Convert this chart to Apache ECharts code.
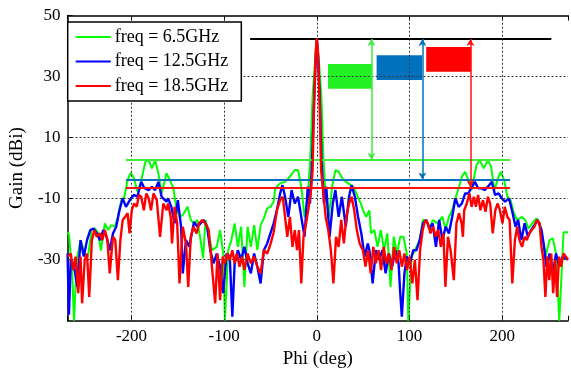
<!DOCTYPE html>
<html><head><meta charset="utf-8">
<script src="https://cdn.jsdelivr.net/npm/echarts@6/dist/echarts.min.js"></script>
<style>html,body{margin:0;padding:0;background:#fff}#c{width:571px;height:376px}</style>
</head><body><div id="c"></div>
<script>
const seriesNames = ['freq = 6.5GHz', 'freq = 12.5GHz', 'freq = 18.5GHz'];
const xTicks = [-200, -100, 0, 100, 200];
const yTicks = [-50, -30, -10, 10, 30, 50];

const gain65 = [[-269,-21],[-267.3,-22],[-264,-35],[-262,-50],[-259,-30],[-255,-23.6],[-253,-23.6],[-250,-28],[-247,-29],[-243,-20.3],[-239.3,-19.8],[-235.8,-21.4],[-233,-27],[-228.8,-18.1],[-225.3,-20.3],[-221.7,-18.7],[-218,-19.2],[-214.7,-16],[-211,-10.5],[-207.7,-9.4],[-204.2,-3.9],[-200.7,-1.5],[-197.2,-3.4],[-193.7,-7.7],[-190.2,-5],[-185,2.1],[-181.5,2.6],[-178,-0.1],[-174.5,2.6],[-171,-1.7],[-167.5,-8.3],[-162.2,-1.7],[-160.5,-1.2],[-157,-5],[-155.2,-6.1],[-151.7,-12.7],[-148.2,-16],[-144.7,-15.4],[-139.5,-12.7],[-136,-17],[-132.5,-18.1],[-129,-17],[-125.5,-23.6],[-122.7,-29.6],[-120.2,-17],[-116.7,-21.4],[-113.2,-26.9],[-108,-25.8],[-104.4,-20.3],[-101,-28],[-99.2,-50],[-95.7,-26.9],[-92.2,-23.6],[-88.7,-18.1],[-85.2,-25.8],[-81.7,-19.2],[-78.2,-38.9],[-74.7,-19.2],[-71.2,-25.8],[-67.7,-18.7],[-64.2,-26.9],[-60.7,-18.7],[-57.2,-16.5],[-53.6,-13.2],[-50.1,-12.7],[-46.6,-11],[-44.8,-6.5],[-39.6,-5],[-34.3,-4.5],[-29.1,-2.8],[-23.8,-0.65],[-20.3,-0.65],[-16.8,-6.1],[-13.3,-16],[-9.8,-9.4],[-7.4,1.5],[-4.6,23.4],[-2.1,34.3],[0,42.3],[2.4,34.3],[4.9,23.4],[7,3.7],[9.5,-9.4],[13,-16],[16.5,-6.1],[20,-0.65],[23.5,-1.2],[28.7,-3.9],[34,-5],[39.2,-6.1],[42.7,-8.3],[47.9,-12],[50,-14],[53.2,-16],[56.7,-13.8],[58.5,-21.4],[62,-20.3],[65.5,-25.8],[69,-20.3],[72.5,-26.9],[76,-21.4],[79.5,-38.9],[83,-22.5],[86.5,-28],[90,-22.5],[93.5,-22.5],[97,-28],[98.7,-50],[102.2,-29],[105.8,-26.9],[111,-23.6],[114.5,-17],[118,-17],[121.5,-19.8],[125,-17],[130.3,-18.1],[135.5,-15.9],[139,-20.3],[142.5,-16],[146,-13.8],[149.5,-9.9],[153,-6.6],[156.5,-2.8],[160,-1.2],[163.6,-3.9],[167,-7.2],[172.3,1],[175.8,2.6],[180,-0.1],[184.6,2.6],[188,0.5],[191.6,-7.2],[196.1,-2.8],[198.6,-1.2],[202.1,-3.9],[205.6,-9.4],[209.1,-10.5],[212.6,-14.8],[216.1,-17],[221.4,-16],[224.9,-17],[228.4,-19.8],[233.6,-17.6],[237.1,-16.5],[240.6,-18.1],[244.1,-23.6],[246.6,-29],[251.1,-23.6],[254.6,-23],[258.1,-28],[261.6,-50],[264.1,-34.5],[266.2,-21],[271,-21]];

const gain125 = [[-269,-28],[-267.5,-48],[-265.5,-30],[-262,-32.3],[-258.5,-38.9],[-255,-23.6],[-251.5,-29],[-248,-23.6],[-244.5,-20.3],[-241,-19.8],[-237.5,-21.4],[-234,-23.6],[-230.5,-20.3],[-227,-22.5],[-223.5,-26.9],[-220,-21.4],[-216.5,-19.2],[-213,-13.8],[-209.5,-9.9],[-206,-12.7],[-200.7,-9.9],[-197.2,-8.8],[-193.7,-9.4],[-189.5,-4.5],[-186,-6.6],[-181.5,-7.2],[-178,-6.1],[-174.5,-7.2],[-171,-4.5],[-167.5,-9.4],[-162.2,-11],[-160.5,-9.9],[-157,-12.7],[-153.5,-18.1],[-150,-10.5],[-146.5,-19.2],[-144.7,-34.5],[-141.2,-23.6],[-137.7,-25.8],[-132.5,-17.6],[-129,-19.2],[-125.5,-18.1],[-122,-17],[-118.5,-19.2],[-115,-26.9],[-111.5,-31.2],[-108,-28],[-104.4,-32.3],[-101,-41],[-97.4,-28],[-94,-29],[-91.2,-48.7],[-88.7,-31.2],[-85.2,-26.9],[-81.7,-30.1],[-78.2,-25.8],[-74.7,-31.2],[-71.2,-34.5],[-67.7,-28],[-64.2,-32.3],[-60.7,-37.8],[-57.2,-26.9],[-53.6,-24.7],[-50.1,-21.4],[-46.6,-18.1],[-43.1,-13.8],[-39.6,-8.3],[-37.1,-5.6],[-34.3,-9.4],[-30.8,-16],[-27.3,-7.2],[-23.8,-11.6],[-20.3,-9.4],[-16.8,-16],[-13.3,-22.5],[-9.8,-6.1],[-7.4,-11.6],[-5.3,1.5],[-2.8,23.4],[-1.1,36.5],[0,42.3],[1.4,36.5],[3.1,23.4],[5.2,1.5],[7.7,-11.6],[10.2,-6.1],[13.7,-22.5],[17.2,-11.6],[20,-7.2],[23.5,-16],[27,-9.4],[31.2,-19.2],[34.7,-9.4],[37.5,-5.6],[41,-9.4],[44.5,-16],[48,-21.4],[51.5,-29],[55,-24.7],[56.7,-26.9],[60.2,-37.8],[63.7,-26.9],[67.2,-30.1],[70.7,-26.9],[74.2,-34.5],[77.7,-28],[81.2,-32.3],[84.7,-26.9],[88.2,-31.2],[90,-41],[91.7,-48.7],[94.5,-34.5],[97,-29],[100.5,-31.2],[104,-26.9],[107.5,-26.9],[111,-23.6],[114.5,-18.1],[118,-17],[121.5,-19.8],[125,-18.1],[128.5,-25.8],[132,-17],[135.5,-23.6],[139,-19.2],[142.5,-21.4],[146,-16],[149.5,-9.9],[153,-12.7],[156.5,-11.6],[160,-8.3],[163.6,-8.3],[165.3,-7.2],[170.6,-4.5],[174,-6.6],[177.6,-6.6],[181,-7.2],[184.6,-6.1],[188.8,-4.5],[192.3,-8.8],[196.1,-8.3],[199.6,-9.9],[203.1,-11],[207.3,-9.9],[210.9,-14.3],[214.4,-19.2],[217.2,-17],[220.7,-23.6],[224.2,-18.1],[227.7,-22.5],[231.2,-20.3],[234.7,-18.7],[238.2,-17],[242.4,-20.3],[245.2,-25.8],[247.6,-32.3],[251.1,-28],[254.6,-34.5],[258.1,-28],[261.6,-32.3],[265.2,-29],[271,-30]];

const gain185 = [[-269,-29],[-265.5,-28],[-263,-33.4],[-260.3,-29],[-257.5,-41],[-255,-29],[-253.3,-44.3],[-250.5,-30.1],[-248,-28],[-245.6,-42.2],[-242.8,-23.6],[-240,-20.3],[-237.5,-22.5],[-234,-21.4],[-231.6,-23.6],[-228.8,-20.3],[-226,-23.6],[-223.5,-34.5],[-220,-22.5],[-217.5,-23.6],[-214.7,-36.7],[-212,-23.6],[-209.5,-17],[-207,-16],[-204.2,-14.8],[-202.1,-21.4],[-199.7,-13.8],[-197.2,-11.6],[-194.4,-12.7],[-192,-8.8],[-189.5,-9.4],[-186.7,-13.8],[-184,-8.3],[-181.5,-9.9],[-179,-13.8],[-176.2,-8.3],[-172.7,-10.5],[-169.2,-22.5],[-165.7,-11.6],[-162.2,-13.8],[-160.5,-11.6],[-157.7,-16],[-156.3,-24.7],[-153.5,-12.7],[-150.7,-18.1],[-148.2,-37.8],[-144.7,-19.2],[-141.2,-24.7],[-138.8,-38.9],[-136,-22.5],[-133.2,-19.2],[-129.7,-21.4],[-127.2,-18.1],[-123.7,-17],[-120.2,-18.1],[-116.7,-20.3],[-113.2,-32.3],[-109.7,-44.3],[-107.2,-28],[-104.4,-43.3],[-101.6,-29],[-99.2,-31.2],[-96.7,-28],[-94,-30.1],[-91.2,-26.9],[-88.7,-31.2],[-86.2,-28],[-83.4,-32.3],[-80.6,-29],[-78.2,-33.4],[-74.7,-28],[-71.2,-31.2],[-67.7,-29],[-64.2,-32.3],[-60.7,-34.5],[-57.2,-26.9],[-53.6,-28],[-50.1,-25],[-46.6,-21],[-43.1,-13.8],[-39.6,-10.5],[-36.8,-9.4],[-34.3,-16],[-31.9,-22.5],[-29.1,-16],[-26.3,-25.8],[-23.8,-20.3],[-21.4,-26.9],[-19.3,-20.3],[-16.8,-37.8],[-14.4,-22.5],[-11.6,-18.1],[-8.8,-12.7],[-6.3,-7.2],[-4.6,-0.65],[-2.8,23.4],[-1.1,38.7],[0,42.5],[1.1,38.7],[2.8,23.4],[4.6,-0.65],[6.7,-7.2],[9.5,-16],[12.3,-20.3],[15.1,-26.9],[17.9,-37.8],[20.7,-22.5],[23.5,-25.8],[26.3,-17],[29.1,-24.7],[31.9,-16],[34.7,-11.6],[37.5,-9.4],[40.3,-13.8],[43.1,-20.3],[46.2,-24.7],[49.7,-26.9],[52.5,-32.3],[55.3,-26.9],[58.1,-34.5],[60.9,-25.8],[63.7,-31.2],[66.5,-26.9],[69.3,-33.4],[72.1,-25.8],[74.9,-31.2],[77.7,-28],[80.5,-33.4],[83.3,-25.8],[86.1,-31.2],[88.9,-26.9],[91.7,-32.3],[94.5,-28],[97.3,-33.4],[100.1,-29],[103,-37.8],[105.8,-30.1],[108.6,-43.3],[111.4,-26.9],[114.2,-20.3],[117,-17],[119.8,-18.1],[122.6,-21.4],[125.4,-19.2],[128.2,-22.5],[131,-20.3],[133.8,-25.8],[136.6,-21.4],[138.7,-38.9],[141.5,-22.5],[144.3,-26.9],[147.8,-36.7],[150.6,-18.1],[153.4,-14.8],[156.2,-18.1],[157.6,-22.5],[159,-13.8],[161.8,-11.6],[164.6,-8.3],[167,-12.7],[169.5,-9.4],[171.6,-12.7],[174,-8.8],[176.5,-13.8],[179.3,-10.5],[182,-14.3],[184.6,-9.4],[187,-11.6],[189.8,-21.4],[192.6,-13.8],[195.1,-11.6],[197.5,-13.8],[200.3,-18.1],[202.8,-12.7],[205.6,-16],[208,-17],[210.9,-37.8],[213.7,-23.6],[216.1,-19.2],[218.6,-23.6],[221.4,-25.8],[224.2,-22.5],[226.6,-23.6],[229.1,-21.4],[231.9,-20.3],[234.7,-19.2],[237.5,-17],[240.3,-18.1],[242.4,-25.8],[244.5,-30.1],[246.6,-42.2],[248.7,-29],[250.8,-36.7],[252.9,-28],[255,-41],[257.1,-30.1],[259.2,-42.2],[261.3,-29],[263.4,-32.3],[266.2,-28],[271,-30]];

// annotations
const peakLevel = 42.3;
const peakLineRange = [-72, 253];
const sideLevels = [2.7, -3.7, -6.3];          // green, blue, red
const sideLineRange = [-206, 208.5];
const arrowX = [58.9, 113.9, 165.7];
const boxX = [[12, 59.5], [64.5, 113.5], [118, 166.5]];
const boxY = [[26, 34.1], [28.85, 36.95], [31.6, 39.7]];

const curveColors = ['#00ff00', '#0000ff', '#ff0000'];
const annotColors = ['#3dee3d', '#0072bd', '#ff1010'];
const boxColors = ['#22f022', '#0072bd', '#ff0000'];

const FONT = 'Liberation Serif';
const chart = echarts.init(document.getElementById('c'), null, {renderer: 'canvas'});

const markLineData = [];
markLineData.push([{coord: [peakLineRange[0], peakLevel], lineStyle: {color: '#000', width: 2, type: 'solid'}},
                   {coord: [peakLineRange[1], peakLevel]}]);
sideLevels.forEach((lv, i) => {
  markLineData.push([{coord: [sideLineRange[0], lv], lineStyle: {color: annotColors[i], width: 2, type: 'solid'}},
                     {coord: [sideLineRange[1], lv]}]);
});
const arrowData = arrowX.map((x, i) => [
  {coord: [x, peakLevel], lineStyle: {color: annotColors[i], width: 1.5, type: 'solid'}, itemStyle: {color: annotColors[i]}},
  {coord: [x, sideLevels[i]]}
]);
const areaData = boxX.map((bx, i) => [
  {coord: [bx[0], boxY[i][1]], itemStyle: {color: boxColors[i], opacity: 1}},
  {coord: [bx[1], boxY[i][0]]}
]);
const gridLineData = xTicks.map(v => ({xAxis: v})).concat(yTicks.filter(v => v > -50 && v < 50).map(v => ({yAxis: v})));

const gains = [gain65, gain125, gain185];
const widths = [2, 2.4, 2.4];
const series = gains.map((g, i) => ({
  name: seriesNames[i], type: 'line', data: g, symbol: 'none', showSymbol: false,
  lineStyle: {color: curveColors[i], width: widths[i]}, itemStyle: {color: curveColors[i]},
  z: 3 + i, animation: false, silent: true, clip: true
}));
series.unshift({
  name: 'grid', type: 'line', data: [], z: 1, silent: true, animation: false,
  markLine: {silent: true, symbol: ['none', 'none'], label: {show: false},
    lineStyle: {color: '#333', width: 1, type: [2, 2]}, data: gridLineData, animation: false}
});
series.push({
  name: 'annot', type: 'line', data: [], z: 10, silent: true, animation: false,
  markLine: {silent: true, symbol: ['none', 'none'], label: {show: false},
    lineStyle: {type: 'solid'}, data: markLineData, animation: false},
  markArea: {silent: true, data: areaData, animation: false}
});
series.push({
  name: 'arrows', type: 'line', data: [], z: 11, silent: true, animation: false,
  markLine: {silent: true, symbol: ['arrow', 'arrow'], symbolSize: [6, 7], label: {show: false},
    lineStyle: {type: 'solid'}, data: arrowData, animation: false}
});

const option = {
  animation: false,
  backgroundColor: '#fff',
  textStyle: {fontFamily: FONT, color: '#000'},
  grid: {left: 61.7, top: 15.5, width: 513.8, height: 305.2, containLabel: false},
  legend: {
    data: seriesNames, orient: 'vertical', left: 67.7, top: 22,
    backgroundColor: '#fff', borderColor: '#000', borderWidth: 1.5,
    padding: [6, 13, 6, 7], itemWidth: 35, itemHeight: 18, itemGap: 6.5,
    itemStyle: {opacity: 0},
    textStyle: {fontFamily: FONT, fontSize: 18, color: '#000', lineHeight: 18, padding: [0, 0, 0, -1]},
    selectedMode: false, z: 20
  },
  xAxis: [{
    type: 'value', min: -269, max: 271, splitNumber: 5, position: 'bottom',
    name: 'Phi (deg)', nameLocation: 'middle', nameGap: 25,
    nameTextStyle: {fontFamily: FONT, fontSize: 19, color: '#000'},
    axisLine: {show: true, onZero: false, lineStyle: {color: '#000', width: 1.5}},
    axisTick: {show: true, inside: true, length: 5, lineStyle: {color: '#000'}},
    axisLabel: {fontFamily: FONT, fontSize: 17, color: '#000', margin: 7,
      formatter: v => (xTicks.indexOf(v) >= 0 ? String(v) : '')},
    splitLine: {show: false}
  }, {
    type: 'value', min: -269, max: 271, splitNumber: 5, position: 'top',
    axisLine: {show: true, onZero: false, lineStyle: {color: '#000', width: 1.5}},
    axisTick: {show: true, inside: true, length: 5, lineStyle: {color: '#000'}},
    axisLabel: {show: false}, splitLine: {show: false}
  }],
  yAxis: {
    type: 'value', min: -50, max: 50, interval: 20,
    name: 'Gain (dBi)', nameLocation: 'middle', nameGap: 34, nameRotate: 90,
    nameTextStyle: {fontFamily: FONT, fontSize: 19, color: '#000'},
    axisLine: {show: true, onZero: false, lineStyle: {color: '#000', width: 1.5}},
    axisTick: {show: true, inside: true, length: 5, lineStyle: {color: '#000'}},
    axisLabel: {fontFamily: FONT, fontSize: 17, color: '#000', margin: 7, showMinLabel: false},
    splitLine: {show: false}
  },
  series: series
};
chart.setOption(option);
</script></body></html>
